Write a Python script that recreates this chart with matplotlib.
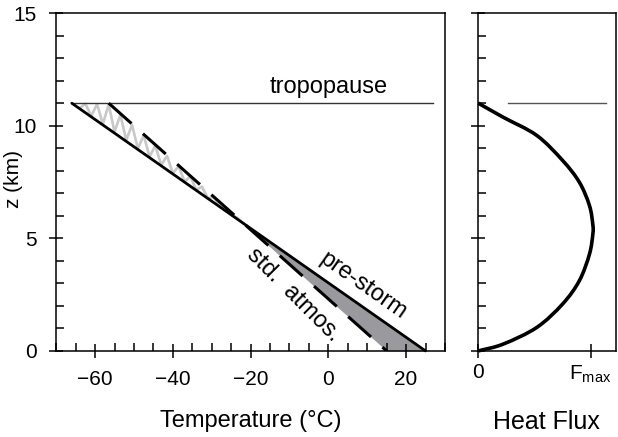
#!/usr/bin/env python3
"""
Pre-storm vs. standard atmosphere temperature profile, with a heat flux panel.
"""

import numpy as np
import matplotlib
matplotlib.use("Agg")
import matplotlib.pyplot as plt
from matplotlib.path import Path
from matplotlib.patches import PathPatch
from matplotlib.ticker import MultipleLocator

plt.rcParams["font.family"] = ["Liberation Sans", "DejaVu Sans"]
plt.rcParams["axes.unicode_minus"] = True

# ------------- Data ------------- #

# temperature profiles (deg C) at the surface and the tropopause
z_levels = [0.0, 11.0]
t_prestorm = [25.0, -66.0]
t_std = [15.0, -56.5]
z_tropopause = 11.0
t_trop_span = [-66.0, 27.0]

# heat flux profile (fraction of F_max)
flux_z = [0.0, 0.3, 1.04, 2.08, 3.12, 4.3, 5.19, 5.6, 6.45, 7.49, 8.46, 9.57, 10.38, 11.0]
flux_f = [0.0, 0.22, 0.52, 0.75, 0.90, 0.99, 1.02, 1.02, 0.99, 0.90, 0.75, 0.52, 0.22, 0.0]
flux_trop_span = [0.26, 1.14]

x_major = [-60, -40, -20, 0, 20]
flux_ticks = [0, 1]
flux_ticklabels = ["0", r"$\mathregular{F_{max}}$"]

FS_TICK = 15
FS_LABEL = 17


def style_axis(ax, pad):
    for sp in ax.spines.values():
        sp.set_linewidth(1.1)
    ax.yaxis.set_major_locator(MultipleLocator(5))
    ax.yaxis.set_minor_locator(MultipleLocator(1))
    ax.tick_params(which="major", direction="inout", length=10, width=1.1,
                   labelsize=FS_TICK, top=False, right=False, pad=pad)
    ax.tick_params(which="minor", direction="in", length=5.5, width=1.1,
                   top=False, right=False)


def smooth_path(xs, ys):
    # Catmull-Rom through the read points, drawn as cubic Bezier segments
    p = np.column_stack([xs, ys])
    p = np.vstack([2 * p[0] - p[1], p, 2 * p[-1] - p[-2]])
    verts = [p[1]]
    codes = [Path.MOVETO]
    for i in range(1, len(p) - 2):
        c1 = p[i] + (p[i + 1] - p[i - 1]) / 6.0
        c2 = p[i + 1] - (p[i + 2] - p[i]) / 6.0
        verts += [c1, c2, p[i + 1]]
        codes += [Path.CURVE4] * 3
    return Path(verts, codes)


# ------------- Figure ------------- #

fig = plt.figure(figsize=(6.18, 4.37), dpi=100)
ax1 = fig.add_axes([0.091, 0.197, 0.629, 0.773])
ax2 = fig.add_axes([0.774, 0.197, 0.222, 0.773])

# --- temperature panel ---
z = np.array(z_levels)
tp = np.array(t_prestorm)
ts = np.array(t_std)

slope_p = (tp[1] - tp[0]) / (z[1] - z[0])
slope_s = (ts[1] - ts[0]) / (z[1] - z[0])
z_cross = (ts[0] - tp[0]) / (slope_p - slope_s)
t_cross = tp[0] + slope_p * z_cross

zz = np.linspace(0, z_cross, 50)
ax1.fill_betweenx(zz, ts[0] + slope_s * zz, tp[0] + slope_p * zz,
                  color="#9a9a9e", lw=0, zorder=1)

# light zigzag in the band above the crossing (vertices alternate between profiles)
zig_t = np.arange(tp[1] + 2.0, t_cross, 1.5)
z_low = (zig_t - tp[0]) / slope_p
z_high = np.minimum((zig_t - ts[0]) / slope_s, z_tropopause)
w = np.where(np.arange(len(zig_t)) % 2 == 0, 0.05, 0.95)
ax1.plot(zig_t, z_low + w * (z_high - z_low), color="#c8c8c8", lw=1.9, zorder=1)

ax1.plot(tp, z, color="black", lw=2.0, solid_capstyle="round", zorder=3, clip_on=False)
ax1.plot(ts[::-1], z[::-1], color="black", lw=2.2, dashes=(10, 5), zorder=3)

ax1.plot(t_trop_span, [z_tropopause] * 2, color="#333333", lw=1.0, zorder=2)
ax1.text(0, 11.7, "tropopause", fontsize=FS_LABEL, ha="center", va="center")
ax1.text(8.9, 2.9, "pre-storm", fontsize=FS_LABEL, ha="center", va="center",
         rotation=-35, rotation_mode="anchor")
ax1.text(-8.9, 2.5, "std.  atmos.", fontsize=FS_LABEL, ha="center", va="center",
         rotation=-45, rotation_mode="anchor")

ax1.set_xlim(-70, 30)
ax1.set_ylim(0, 15)
style_axis(ax1, pad=9)
ax1.set_xticks(x_major)
ax1.xaxis.set_minor_locator(MultipleLocator(5))
ax1.set_xlabel("Temperature (°C)", fontsize=FS_LABEL)
ax1.xaxis.set_label_coords(0.5, -0.175)
ax1.set_ylabel("z (km)", fontsize=15)
ax1.yaxis.set_label_coords(-0.086, 0.51)

# --- heat flux panel ---
ax2.add_patch(PathPatch(smooth_path(flux_f, flux_z), fill=False, lw=2.6,
                        ec="black", zorder=3, clip_on=False))
ax2.plot(flux_trop_span, [z_tropopause] * 2, color="#555555", lw=1.0)
ax2.set_xlim(0, 1.222)
ax2.set_ylim(0, 15)
style_axis(ax2, pad=4)
ax2.set_xticks(flux_ticks)
ax2.set_xticklabels(flux_ticklabels)
ax2.xaxis.set_minor_locator(plt.NullLocator())
ax2.set_yticklabels([])
ax2.set_xlabel("Heat Flux", fontsize=18)
ax2.xaxis.set_label_coords(0.5, -0.175)

fig.savefig("out.png", dpi=100)
